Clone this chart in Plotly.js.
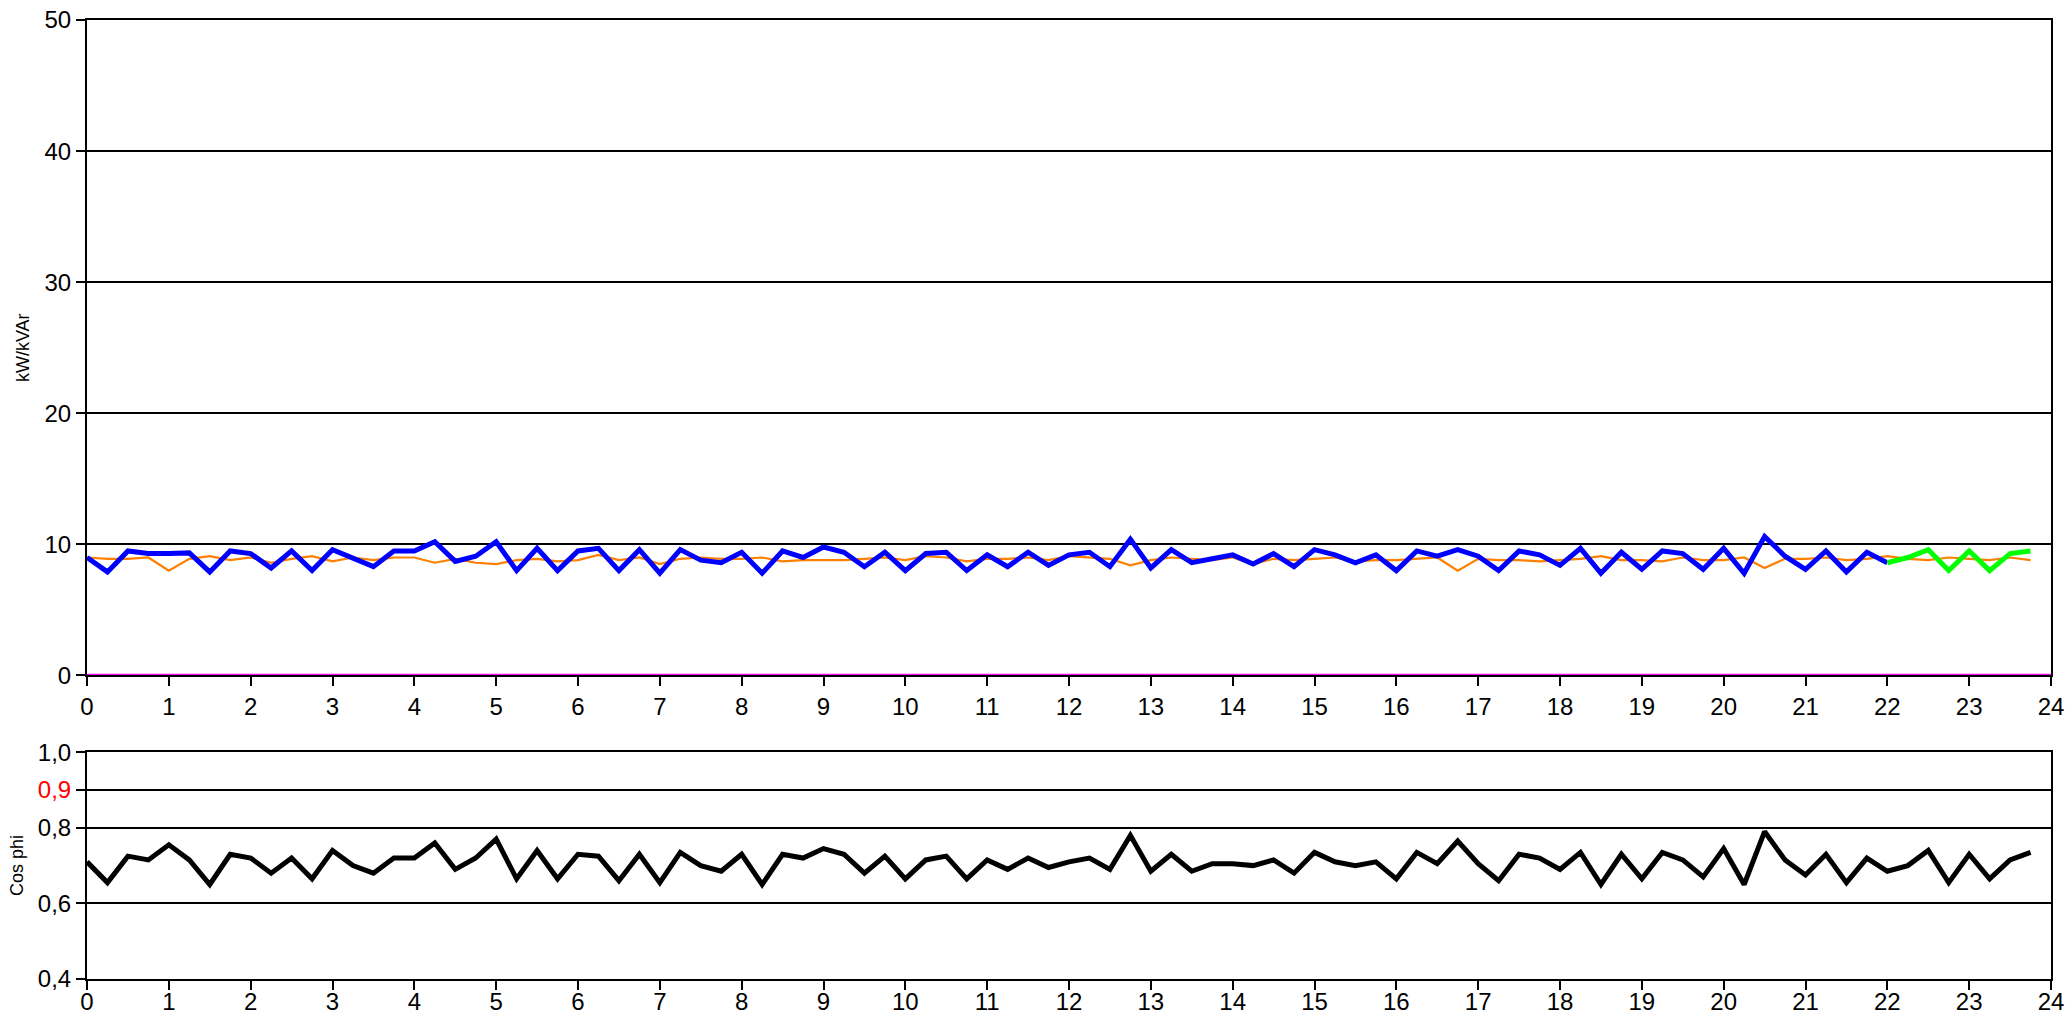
<!DOCTYPE html>
<html>
<head>
<meta charset="utf-8">
<script src="https://cdn.plot.ly/plotly-3.0.1.min.js"></script>
<style>html,body{margin:0;padding:0;background:#fff;overflow:hidden}#chart{width:2071px;height:1017px}</style>
</head>
<body>
<div id="chart"></div>
<script>
// Active power (kW), 15-min steps from 0:00 to 22:00
const blueVals = [
  9.0, 7.9, 9.5, 9.3,
  9.3, 9.35, 7.9, 9.5,
  9.3, 8.2, 9.5, 8.0,
  9.6, 9.0, 8.3, 9.5,
  9.5, 10.2, 8.7, 9.1,
  10.2, 8.0, 9.7, 8.0,
  9.5, 9.7, 8.0, 9.6,
  7.8, 9.6, 8.8, 8.6,
  9.4, 7.8, 9.5, 9.0,
  9.8, 9.4, 8.3, 9.4,
  8.0, 9.3, 9.4, 8.0,
  9.2, 8.3, 9.4, 8.4,
  9.2, 9.4, 8.3, 10.4,
  8.2, 9.6, 8.6, 8.9,
  9.2, 8.5, 9.3, 8.3,
  9.6, 9.2, 8.6, 9.2,
  8.0, 9.5, 9.1, 9.6,
  9.1, 8.0, 9.5, 9.2,
  8.4, 9.7, 7.8, 9.4,
  8.1, 9.5, 9.3, 8.1,
  9.7, 7.8, 10.6, 9.1,
  8.1, 9.5, 7.9, 9.4,
  8.6
];
// Active power (kW), last part 22:00 to 23:45
const greenVals = [8.6, 9.0, 9.6, 8.0, 9.5, 8.0, 9.3, 9.5];
// Reactive power (kVAr), 0:00 to 23:45
const orangeVals = [
  9.0, 8.9, 8.9, 9.0,
  8.0, 8.9, 9.1, 8.8,
  9.0, 8.6, 8.9, 9.1,
  8.7, 9.0, 8.8, 9.0,
  9.0, 8.6, 8.9, 8.6,
  8.5, 8.8, 8.9, 8.7,
  8.8, 9.2, 8.8, 9.0,
  8.5, 8.9, 9.0, 8.9,
  8.9, 9.0, 8.7, 8.8,
  8.8, 8.8, 8.9, 9.0,
  8.8, 9.1, 9.0, 8.7,
  8.9, 8.9, 9.0, 8.8,
  9.1, 9.0, 8.9, 8.4,
  8.8, 9.0, 8.9, 8.8,
  9.0, 8.5, 8.9, 8.8,
  8.9, 9.0, 8.7, 8.8,
  8.8, 8.9, 9.0, 8.0,
  8.9, 8.8, 8.8, 8.7,
  8.8, 8.9, 9.1, 8.8,
  8.8, 8.7, 9.0, 8.8,
  8.8, 9.0, 8.2, 8.9,
  8.9, 9.0, 8.8, 8.9,
  9.1, 8.9, 8.8, 9.0,
  8.9, 8.8, 9.0, 8.8
];
// Capacitive kVAr line (flat at zero)
const magentaX = [0, 24];
const magentaVals = [0, 0];
// Cos phi, 0:00 to 23:45
const cosPhiVals = [
  0.71, 0.655, 0.725, 0.715,
  0.755, 0.715, 0.65, 0.73,
  0.72, 0.68, 0.72, 0.665,
  0.74, 0.70, 0.68, 0.72,
  0.72, 0.76, 0.69, 0.72,
  0.77, 0.665, 0.74, 0.665,
  0.73, 0.725, 0.66, 0.73,
  0.655, 0.735, 0.70, 0.685,
  0.73, 0.65, 0.73, 0.72,
  0.745, 0.73, 0.68, 0.725,
  0.665, 0.715, 0.725, 0.665,
  0.715, 0.69, 0.72, 0.695,
  0.71, 0.72, 0.69, 0.78,
  0.685, 0.73, 0.685, 0.705,
  0.705, 0.70, 0.715, 0.68,
  0.735, 0.71, 0.70, 0.71,
  0.665, 0.735, 0.705, 0.765,
  0.705, 0.66, 0.73, 0.72,
  0.69, 0.735, 0.65, 0.73,
  0.665, 0.735, 0.715, 0.67,
  0.745, 0.65, 0.79, 0.715,
  0.675, 0.73, 0.655, 0.72,
  0.685, 0.70, 0.74, 0.655,
  0.73, 0.665, 0.715, 0.735
];
const cosRef = 0.9;
const xTickVals = [0,1,2,3,4,5,6,7,8,9,10,11,12,13,14,15,16,17,18,19,20,21,22,23,24];
const topTickVals = [0, 10, 20, 30, 40, 50];
const botTickVals = [0.4, 0.6, 0.8, 0.9, 1.0];
const botTickText = ['0,4', '0,6', '0,8', '<span style="color:#ff0000">0,9</span>', '1,0'];

const step = 0.25;
const xBlue = blueVals.map((_, i) => i * step);
const xGreen = greenVals.map((_, i) => 22 + i * step);
const xOrange = orangeVals.map((_, i) => i * step);
const xCos = cosPhiVals.map((_, i) => i * step);

const fam = 'Liberation Sans, Arial, sans-serif';
const font = {family: fam, size: 24, color: '#000'};

const traces = [
  {x: magentaX, y: magentaVals, xaxis: 'x', yaxis: 'y', mode: 'lines', line: {color: '#ff00ff', width: 3.5}, hoverinfo: 'skip'},
  {x: xOrange, y: orangeVals, xaxis: 'x', yaxis: 'y', mode: 'lines', line: {color: '#ff8000', width: 2.2}},
  {x: xBlue, y: blueVals, xaxis: 'x', yaxis: 'y', mode: 'lines', line: {color: '#0000ff', width: 5}},
  {x: xGreen, y: greenVals, xaxis: 'x', yaxis: 'y', mode: 'lines', line: {color: '#00ff00', width: 5}},
  {x: xCos, y: cosPhiVals, xaxis: 'x2', yaxis: 'y2', mode: 'lines', line: {color: '#000000', width: 5}}
];

const axX = {
  range: [0, 24], tickvals: xTickVals, ticks: 'outside', ticklen: 9, tickwidth: 2, tickcolor: '#000',
  showline: true, linecolor: '#000', linewidth: 2, mirror: true, showgrid: false, zeroline: false,
  tickfont: font, fixedrange: true, automargin: false
};

const layout = {
  width: 2071, height: 1017,
  margin: {l: 87, r: 20, t: 20, b: 38},
  paper_bgcolor: '#fff', plot_bgcolor: '#fff',
  showlegend: false,
  separators: ',.',
  font: font,
  xaxis: Object.assign({}, axX, {anchor: 'y', domain: [0, 1]}),
  yaxis: {
    domain: [0.3165, 1], range: [0, 50], tickvals: topTickVals, ticks: 'outside', ticklen: 9, tickwidth: 2, tickcolor: '#000',
    showline: true, linecolor: '#000', linewidth: 2, mirror: true, showgrid: true, gridcolor: '#000', gridwidth: 2,
    zeroline: false, tickfont: font, anchor: 'x', automargin: false,
    title: {text: 'kW/kVAr', font: {family: fam, size: 18, color: '#000'}, standoff: 10}
  },
  xaxis2: Object.assign({}, axX, {anchor: 'y2', domain: [0, 1], ticklabelstandoff: -9}),
  yaxis2: {
    domain: [0, 0.2365], range: [0.4, 1.0], tickvals: botTickVals, ticktext: botTickText, ticks: 'outside', ticklen: 9, tickwidth: 2, tickcolor: '#000',
    showline: true, linecolor: '#000', linewidth: 2, mirror: true, showgrid: true, gridcolor: '#000', gridwidth: 2,
    zeroline: false, tickfont: font, anchor: 'x2', automargin: false,
    title: {text: 'Cos phi', font: {family: fam, size: 18, color: '#000'}, standoff: 10}
  },
  shapes: [
    {type: 'line', xref: 'x2', yref: 'y2', x0: 0, x1: 24, y0: cosRef, y1: cosRef, line: {color: '#ff0000', width: 2}, layer: 'below'}
  ]
};

Plotly.newPlot('chart', traces, layout, {staticPlot: true});
</script>
</body>
</html>
